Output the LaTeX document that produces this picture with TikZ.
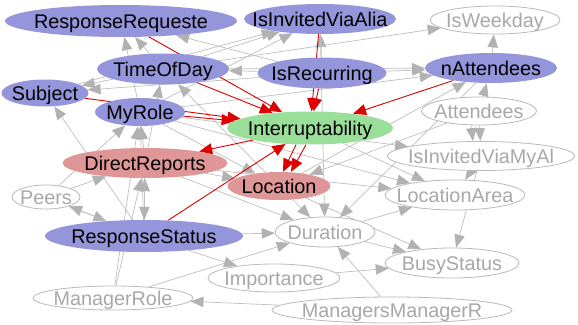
\documentclass[tikz,border=0pt]{standalone}
\usepackage{fontspec}
\setmainfont{Liberation Sans}
\usetikzlibrary{shapes.geometric,arrows.meta}
\pgfdeclarelayer{edges}
\pgfsetlayers{edges,main}

\definecolor{varblue}{RGB}{149,149,219}
\definecolor{varpink}{RGB}{222,150,150}
\definecolor{vargreen}{RGB}{153,222,153}
\definecolor{hidline}{RGB}{185,185,185}
\definecolor{hidtext}{RGB}{168,168,168}
\definecolor{edgegray}{RGB}{190,190,190}
\definecolor{tipgray}{RGB}{178,178,178}
\definecolor{infred}{RGB}{222,0,0}

% label of zero size, centred on the node, so the ellipse keeps its given size
\newcommand\vlabel[1]{\smash{\raisebox{-0.36em}{\makebox[0pt]{#1}}}}

\tikzset{
  var/.style={ellipse, inner sep=0pt, font=\fontsize{19.8}{20}\selectfont},
  query/.style={var, fill=varblue, text=black},
  evid/.style={var, fill=varpink, text=black},
  target/.style={var, fill=vargreen, text=black},
  hidden/.style={var, fill=white, draw=hidline, line width=0.8pt, text=hidtext},
  dep/.style={draw=edgegray, line width=0.7pt,
    -{Triangle[length=13pt,width=10.5pt,color=tipgray]}},
  infl/.style={draw=infred, line width=0.9pt,
    -{Triangle[length=13pt,width=11pt]}},
  sz/.style 2 args={minimum width=#1pt, minimum height=#2pt},
}

\begin{document}
\begin{tikzpicture}[x=1pt,y=-1pt]
\useasboundingbox (0,0) rectangle (578,324);

% variables
\node[query,sz={232}{32}] (rr)  at (121,21)  {\vlabel{ResponseRequeste}};
\node[query,sz={152}{30}] (iva) at (320,19)  {\vlabel{IsInvitedViaAlia}};
\node[hidden,sz={130}{28}] (iwd) at (495,20) {\vlabel{IsWeekday}};
\node[query,sz={132}{31}] (tod) at (163,69)  {\vlabel{TimeOfDay}};
\node[query,sz={129}{31}] (ir)  at (322,73)  {\vlabel{IsRecurring}};
\node[query,sz={132}{30}] (na)  at (491,68)  {\vlabel{nAttendees}};
\node[query,sz={87}{27}]  (sub) at (45,93)   {\vlabel{Subject}};
\node[query,sz={90}{28}]  (mr)  at (140,112) {\vlabel{MyRole}};
\node[target,sz={166}{33}] (int) at (310,128) {\vlabel{Interruptability}};
\node[hidden,sz={115}{28}] (at) at (479,111) {\vlabel{Attendees}};
\node[evid,sz={165}{30}]  (dr)  at (145,163) {\vlabel{DirectReports}};
\node[hidden,sz={187}{29}] (ivm) at (481,156) {\vlabel{IsInvitedViaMyAl}};
\node[evid,sz={103}{28}]  (loc) at (279,186) {\vlabel{Location}};
\node[hidden,sz={68}{24}] (pe)  at (46,197)  {\vlabel{Peers}};
\node[hidden,sz={140}{30}] (la) at (455,195) {\vlabel{LocationArea}};
\node[query,sz={198}{32}] (rs)  at (144,236) {\vlabel{ResponseStatus}};
\node[hidden,sz={100}{30}] (du) at (325,232) {\vlabel{Duration}};
\node[hidden,sz={132}{28}] (im) at (274,278) {\vlabel{Importance}};
\node[hidden,sz={134}{30}] (bs) at (452,263) {\vlabel{BusyStatus}};
\node[hidden,sz={160}{24}] (mgr) at (113,298) {\vlabel{ManagerRole}};
\node[hidden,sz={240}{26}] (mmr) at (392,310) {\vlabel{ManagersManagerR}};

\begin{pgfonlayer}{edges}
  % plain dependencies
  \foreach \a/\b in {tod/rr, mr/rr, ir/rr, tod/sub, ir/sub,
      dr/tod, loc/tod, ir/tod, sub/iva, mr/iva, ir/iva, tod/iva,
      tod/iwd, na/iwd, ir/na, tod/na, at/na, loc/na, mr/na,
      rs/sub, pe/mr, dr/mr, rs/mr, mgr/mr,
      rs/dr, dr/rs, pe/rs, rs/pe, mgr/dr, pe/dr,
      rs/du, rs/im, mmr/mgr, mmr/du, mgr/du,
      du/bs, ivm/bs, loc/bs, im/bs,
      int/la, mr/la, at/ivm, mr/ivm, ivm/la,
      iva/du, loc/du, dr/du, na/du, du/la, dr/la,
      dr/loc, mr/loc, at/loc}
    \draw[dep] (\a) -- (\b);
  \draw[dep] ([xshift=-8pt]at.south) -- ([xshift=-8pt]ivm.north);

  % influences on interruptability
  \foreach \a in {rr, tod, iva, ir, na, sub, mr, rs}
    \draw[infl] (\a) -- (int);
  \draw[infl] (int) -- (dr);
  \draw[infl] ([xshift=-14pt]int.south) -- ([xshift=4pt]loc.north);
  \draw[infl] ([xshift=-4pt]int.south) -- ([xshift=12pt]loc.north);
\end{pgfonlayer}
\end{tikzpicture}
\end{document}
